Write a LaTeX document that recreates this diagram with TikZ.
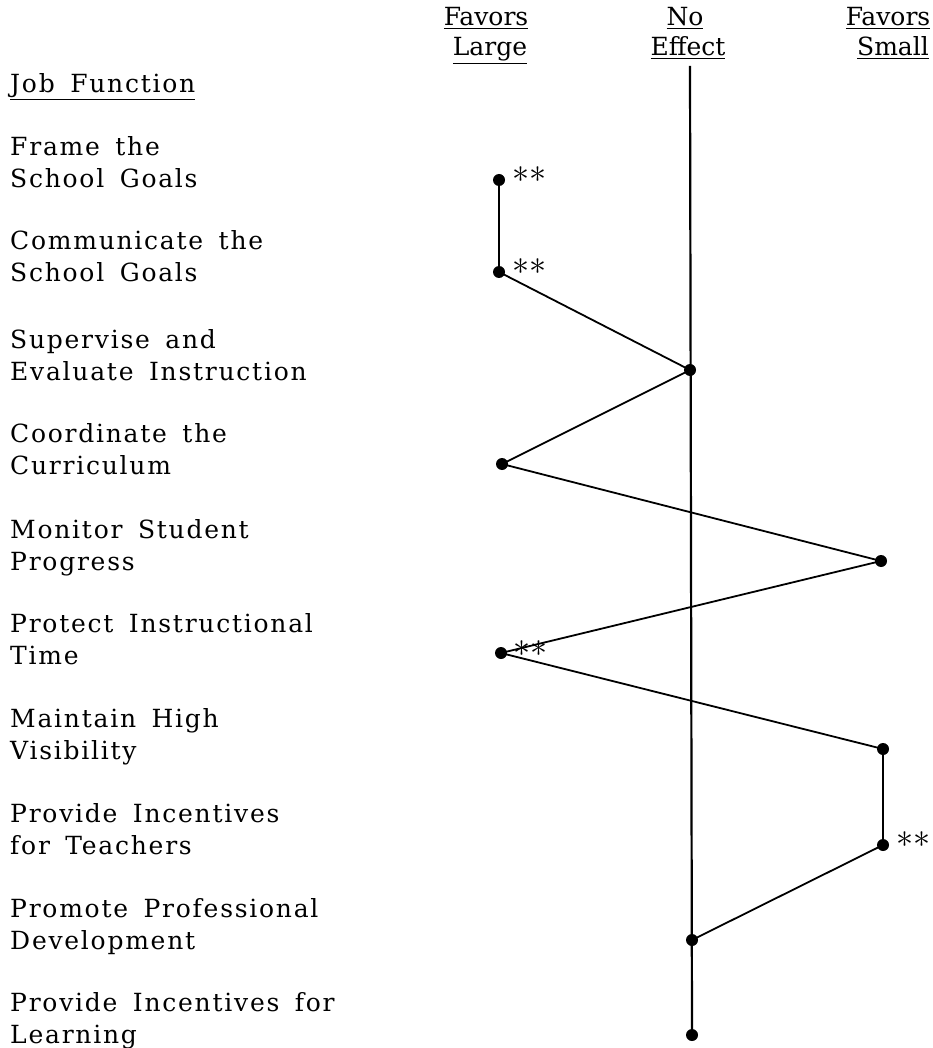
\documentclass[tikz,border=0pt]{standalone}
\usepackage{fontspec}
\usepackage{graphicx}
\setmainfont{DejaVu Serif}[LetterSpace=7,WordSpace=1.6]
\newfontfamily\headfont{DejaVu Serif}
\newcommand\lblfont{\fontsize{25}{32}\selectfont}
\newcommand\sigmark{\scalebox{3.4}{$\ast{}\ast$}}
\begin{document}
\begin{tikzpicture}[x=1pt,y=-1pt,
  lbl/.style={anchor=base west,inner sep=0pt,font=\lblfont},
  head/.style={anchor=base,inner sep=0pt,font=\headfont\fontsize{25}{30}\selectfont},
  dot/.style={circle,fill=black,inner sep=0pt,minimum size=12pt},
  stars/.style={anchor=center,inner sep=0pt},
  link/.style={line width=1.8pt},
  axis/.style={line width=2.2pt}]
\useasboundingbox (0,0) rectangle (932,1048);

% column headings
\node[head] (fl1) at (486,26) {\underline{Favors}};
\node[head] (fl2) at (490,56) {\underline{Large}};
\node[head] (ne1) at (685,26) {\underline{No}};
\node[head] (ne2) at (688,56) {\underline{Effect}};
\node[head] (fs1) at (888,26) {\underline{Favors}};
\node[head] (fs2) at (893,56) {\underline{Small}};

% job functions
\node[lbl] (jf) at (10,93) {\underline{Job Function}};
\foreach \a/\b/\y [count=\i] in {
  Frame the/School Goals/188,
  Communicate the/School Goals/282,
  Supervise and/Evaluate Instruction/380,
  Coordinate the/Curriculum/474,
  Monitor Student/Progress/570,
  Protect Instructional/Time/664,
  Maintain High/Visibility/759,
  Provide Incentives/for Teachers/854,
  Promote Professional/Development/949,
  Provide Incentives for/Learning/1043}{
  \node[lbl] (la\i) at (10,\y-32) {\a};
  \node[lbl] (lb\i) at (10,\y) {\b};
}

% effect points
\node[dot] (p1) at (499,180) {};
\node[dot] (p2) at (499,272) {};
\node[dot] (p3) at (690,370) {};
\node[dot] (p4) at (502,464) {};
\node[dot] (p5) at (881,561) {};
\node[dot] (p6) at (501,653) {};
\node[dot] (p7) at (883,749) {};
\node[dot] (p8) at (883,845) {};
\node[dot] (p9) at (692,940) {};
\node[dot] (p10) at (692,1035) {};

% no-effect axis
\coordinate (top) at (690,66);
\draw[axis] (top) -- (p10.center);

% profile
\draw[link] (p1.center) -- (p2.center) -- (p3.center) -- (p4.center) -- (p5.center)
  -- (p6.center) -- (p7.center) -- (p8.center) -- (p9.center);

% significance marks
\node[stars] (s1) at ([xshift=30pt,yshift=5pt]p1.center) {\sigmark};
\node[stars] (s2) at ([xshift=30pt,yshift=5pt]p2.center) {\sigmark};
\node[stars] (s6) at ([xshift=29pt,yshift=4pt]p6.center) {\sigmark};
\node[stars] (s8) at ([xshift=30pt,yshift=5pt]p8.center) {\sigmark};
\end{tikzpicture}
\end{document}
